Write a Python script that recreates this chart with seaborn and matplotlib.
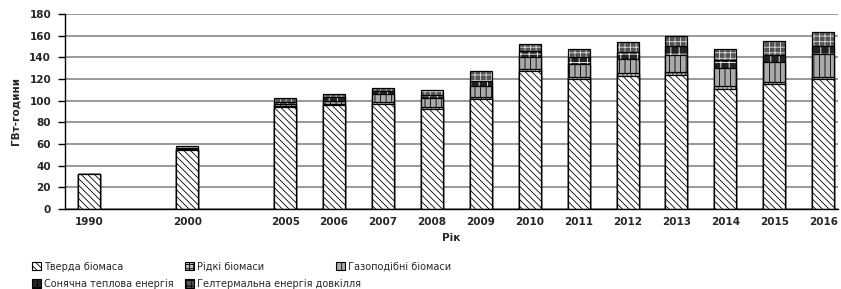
import numpy as np
import pandas as pd
import seaborn as sns
import matplotlib.pyplot as plt

# --- data (GWh) ---
years = ['1990', '2000', '2005', '2006', '2007', '2008', '2009', '2010',
         '2011', '2012', '2013', '2014', '2015', '2016']
solid = [32, 54, 94, 96, 97, 92, 101, 127, 120, 123, 124, 111, 115, 120]
liquid = [0, 0, 1, 1, 2, 2, 2, 2, 2, 2, 2, 2, 2, 2]
gas = [0, 1, 2, 3, 7, 8, 10, 11, 12, 13, 16, 17, 19, 21]
solar = [0, 1, 2, 3, 3, 3, 5, 6, 6, 7, 8, 7, 6, 7]
ambient = [0, 2, 3, 3, 3, 5, 9, 6, 8, 9, 10, 11, 13, 13]

labels = ['Тверда біомаса', 'Рідкі біомаси', 'Газоподібні біомаси',
          'Сонячна теплова енергія', 'Гелтермальна енергія довкілля']

# empty slots between 1990-2000 and 2000-2005
order = ['1990', ' ', '2000', '  '] + years[2:]

df = pd.DataFrame({'year': years, 'solid': solid, 'liquid': liquid,
                   'gas': gas, 'solar': solar, 'ambient': ambient})
cols = ['solid', 'liquid', 'gas', 'solar', 'ambient']
cum = df[cols].cumsum(axis=1)

# face colour, hatch colour, hatch
styles = {
    'solid': ('white', 'black', '\\\\\\\\\\'),
    'liquid': ('#bbbbbb', '#333333', '++++'),
    'gas': ('#aaaaaa', 'black', '|||'),
    'solar': ('#222222', 'white', '++'),
    'ambient': ('#555555', '#dddddd', '+++'),
}

sns.set_theme(style='white')
plt.rcParams['font.family'] = ['DejaVu Sans']
plt.rcParams['hatch.linewidth'] = 0.6

fig = plt.figure(figsize=(8.41, 2.89), dpi=100)
ax = fig.add_axes([0.0773, 0.277, 0.919, 0.675])

# draw stacked bars top layer first, each lower cumulative covers the rest
for col in reversed(cols):
    fc, hc, h = styles[col]
    d = pd.DataFrame({'year': df['year'], 'v': cum[col]})
    sns.barplot(data=d, x='year', y='v', order=order, color=fc,
                edgecolor=hc, linewidth=0, hatch=h, width=0.45,
                errorbar=None, saturation=1, ax=ax)
    sns.barplot(data=d, x='year', y='v', order=order, color='black',
                fill=False, linewidth=0.9, width=0.45,
                errorbar=None, ax=ax)

ax.set_ylim(0, 180)
ax.set_yticks(range(0, 181, 20))
ax.set_xlim(-0.5, 15.3)
ax.set_axisbelow(True)
ax.yaxis.grid(True, color='#888888', linewidth=1.2)
ax.xaxis.grid(False)
for s in ['top', 'right']:
    ax.spines[s].set_visible(False)
for s in ['left', 'bottom']:
    ax.spines[s].set_color('black')
    ax.spines[s].set_linewidth(1.0)

ax.tick_params(axis='x', which='major', length=0, pad=6, labelsize=7.5)
ax.set_xticks(np.arange(0.5, 15.5, 1), minor=True)
ax.tick_params(axis='x', which='minor', length=3, width=1, color='black',
               direction='out')
ax.tick_params(axis='y', length=5, width=1, color='black', labelsize=7.5,
               direction='out', pad=5, left=True)
for t in ax.get_xticklabels() + ax.get_yticklabels():
    t.set_fontweight('bold')

ax.set_xlabel('Рік', fontsize=7.5, fontweight='bold', labelpad=4)
ax.set_ylabel('ГВт-години', fontsize=7.5, fontweight='bold', labelpad=6)

# legend: two columns + a separate third column to match spacing
handles = []
for col, lab in zip(cols, labels):
    fc, hc, h = styles[col]
    p = plt.Rectangle((0, 0), 1, 1, facecolor=fc, edgecolor='black', hatch=h,
                      linewidth=0.8, label=lab)
    handles.append(p)

leg_kw = dict(loc='upper left', frameon=False, fontsize=7,
              handlelength=0.9, handleheight=0.9, handletextpad=0.3,
              labelspacing=0.75, borderaxespad=0, borderpad=0)
fig.legend(handles=[handles[i] for i in [0, 3, 1, 4]], ncol=2,
           bbox_to_anchor=(0.038, 0.095), columnspacing=1.2, **leg_kw)
fig.legend(handles=[handles[2]], ncol=1,
           bbox_to_anchor=(0.400, 0.095), **leg_kw)

fig.savefig('out.png', dpi=100)
